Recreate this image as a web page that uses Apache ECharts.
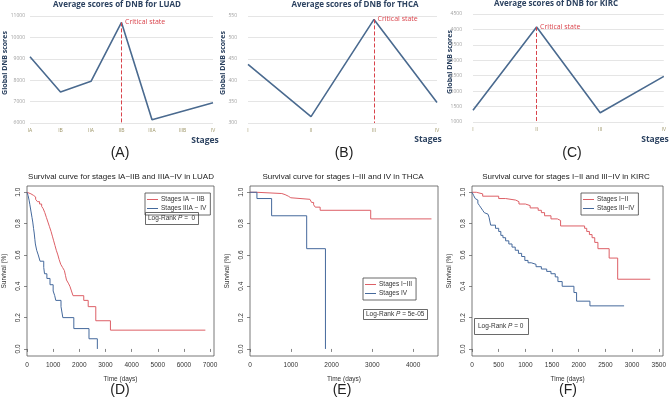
<!DOCTYPE html>
<html>
<head>
<meta charset="utf-8">
<script src="https://cdn.jsdelivr.net/npm/echarts@6/dist/echarts.min.js"></script>
<style>
  html, body { margin: 0; padding: 0; background: #fff; }
  #main { width: 669px; height: 399px; }
</style>
</head>
<body>
<div id="main"></div>
<script>
// ---- top row: average DNB scores per stage ----
var stagesLUAD = ['IA', 'IB', 'IIA', 'IIB', 'IIIA', 'IIIB', 'IV'];
var scoresLUAD = [9100, 7450, 7950, 10700, 6150, 6550, 6950];
var criticalLUAD = 'IIB';

var stagesTHCA = ['I', 'II', 'III', 'IV'];
var scoresTHCA = [437, 315, 542, 348];
var criticalTHCA = 'III';

var stagesKIRC = ['I', 'II', 'III', 'IV'];
var scoresKIRC = [1380, 4080, 1300, 2480];
var criticalKIRC = 'II';

// ---- bottom row: Kaplan-Meier curves, [days, survival] ----
var luadEarly = [[0,1],[60,0.99],[150,0.98],[250,0.97],[330,0.955],[400,0.94],[480,0.925],[560,0.91],[620,0.895],[680,0.87],
  [740,0.84],[800,0.81],[860,0.78],[920,0.75],[970,0.72],[1020,0.69],[1070,0.66],[1120,0.63],[1180,0.60],[1230,0.57],
  [1290,0.54],[1360,0.52],[1430,0.50],[1470,0.47],[1510,0.44],[1580,0.42],[1640,0.40],[1700,0.37],[1760,0.34],
  [2170,0.31],[2340,0.27],[2630,0.18],[3190,0.12],[6820,0.12]];
var luadLate = [[0,1],[40,0.98],[80,0.95],[110,0.92],[150,0.88],[190,0.84],[220,0.81],[250,0.77],[275,0.74],[300,0.70],
  [320,0.67],[370,0.63],[430,0.60],[500,0.56],[640,0.52],[670,0.48],[760,0.45],[880,0.41],[1000,0.37],[1060,0.34],
  [1100,0.31],[1300,0.27],[1370,0.20],[1790,0.13],[2370,0.065],[2690,0]];

var thcaEarly = [[0,1],[160,0.992],[780,0.985],[860,0.975],[940,0.965],[1000,0.955],[1470,0.945],[1510,0.935],
  [1560,0.92],[1600,0.905],[1720,0.885],[2960,0.83],[4450,0.83]];
var thcaLate = [[0,1],[170,0.96],[530,0.85],[1390,0.64],[1850,0]];

var kircEarly = [[0,1],[80,0.99],[200,0.975],[500,0.96],[630,0.95],[820,0.94],[880,0.925],[1000,0.915],[1090,0.9],
  [1240,0.885],[1300,0.87],[1360,0.85],[1480,0.83],[1600,0.82],[1660,0.785],[2110,0.77],[2150,0.75],[2200,0.73],
  [2250,0.71],[2300,0.68],[2360,0.64],[2570,0.58],[2730,0.445],[3340,0.445]];
var kircLate = [[0,1],[30,0.98],[60,0.96],[80,0.95],[110,0.93],[140,0.915],[170,0.9],[200,0.885],[230,0.87],[260,0.86],
  [300,0.85],[320,0.84],[350,0.79],[440,0.77],[500,0.75],[540,0.725],[580,0.71],[630,0.69],[690,0.67],[750,0.65],
  [810,0.63],[870,0.61],[930,0.59],[990,0.565],[1050,0.55],[1110,0.54],[1200,0.525],[1300,0.51],[1400,0.495],
  [1480,0.48],[1560,0.46],[1610,0.43],[1690,0.40],[1910,0.36],[1960,0.305],[2210,0.275],[2850,0.275]];

var survTicks = [0, 0.2, 0.4, 0.6, 0.8, 1.0];
var luadDays = [0, 1000, 2000, 3000, 4000, 5000, 6000, 7000];
var thcaDays = [0, 1000, 2000, 3000, 4000];
var kircDays = [0, 500, 1000, 1500, 2000, 2500, 3000, 3500];

var XL = '"Open Sans", sans-serif';
var RF = '"Liberation Sans", Arial, sans-serif';
var NAVY = '#2c4260';
var LINE = '#4a6a8f';
var RED = '#dd5f66';
var BLUE = '#45699c';
var CRIT = '#d9434b';

var chart = echarts.init(document.getElementById('main'));

function plain(v) { return String(v); }

function topX(idx, cats) {
  return {
    type: 'category', gridIndex: idx, data: cats, boundaryGap: false,
    axisLine: { show: false }, axisTick: { show: false },
    axisLabel: { fontSize: 5, color: '#9c9466', margin: 5, fontFamily: XL }
  };
}
function topY(idx, min, max, step, margin) {
  return {
    type: 'value', gridIndex: idx, min: min, max: max, interval: step,
    axisLine: { show: false }, axisTick: { show: false },
    axisLabel: { fontSize: 5, color: '#a0a0a0', margin: margin, fontFamily: XL, formatter: plain },
    splitLine: { lineStyle: { color: '#dedede', width: 0.8 } }
  };
}
function botX(idx, max, ticks) {
  return {
    type: 'value', gridIndex: idx, min: 0, max: max,
    name: 'Time (days)', nameLocation: 'middle', nameGap: 20,
    nameTextStyle: { fontSize: 6.5, color: '#333', fontFamily: RF },
    axisLine: { show: false },
    axisTick: { show: true, inside: false, length: 3, customValues: ticks, lineStyle: { color: '#555', width: 0.7 } },
    axisLabel: { fontSize: 6.5, color: '#333', margin: 6, customValues: ticks, fontFamily: RF, formatter: plain },
    splitLine: { show: false }
  };
}
function botY(idx) {
  return {
    type: 'value', gridIndex: idx, min: -0.045, max: 1.04,
    name: 'Survival (%)', nameLocation: 'middle', nameGap: 19,
    nameTextStyle: { fontSize: 6.5, color: '#333', fontFamily: RF },
    axisLine: { show: false },
    axisTick: { show: true, length: 3, customValues: survTicks, lineStyle: { color: '#555', width: 0.7 } },
    axisLabel: { fontSize: 6.5, color: '#333', margin: 5, rotate: 90, customValues: survTicks, fontFamily: RF,
      formatter: function (v) { return v.toFixed(1); } },
    splitLine: { show: false }
  };
}
function scoreSeries(idx, name, cats, vals, crit, floor) {
  var peak = vals[cats.indexOf(crit)];
  return {
    type: 'line', name: name, xAxisIndex: idx, yAxisIndex: idx, data: vals,
    symbol: 'none', lineStyle: { color: LINE, width: 1.6 },
    markLine: {
      silent: true, symbol: 'none', label: { show: false },
      lineStyle: { color: CRIT, type: 'dashed', width: 1 },
      data: [[{ coord: [crit, peak] }, { coord: [crit, floor] }]]
    },
    markPoint: {
      silent: true, symbol: 'circle', symbolSize: 1, itemStyle: { color: 'rgba(0,0,0,0)' },
      label: { show: true, position: 'right', distance: 3, formatter: 'Critical state',
        color: CRIT, fontSize: 7, fontFamily: XL },
      data: [{ coord: [crit, peak] }]
    }
  };
}
function kmSeries(idx, name, data, color) {
  return {
    type: 'line', name: name, xAxisIndex: idx, yAxisIndex: idx, data: data,
    step: 'end', symbol: 'none', lineStyle: { color: color, width: 1 }, itemStyle: { color: color }
  };
}
function legendBox(names, left, top) {
  return {
    data: names, orient: 'vertical', left: left, top: top, icon: 'rect',
    borderColor: '#444', borderWidth: 0.8, borderRadius: 0, padding: [3, 4, 3, 2],
    itemGap: 2, itemWidth: 11, itemHeight: 1,
    textStyle: { fontSize: 6.5, color: '#333', fontFamily: RF, padding: [0, 0, 0, -2] }
  };
}
function logRank(text, left, top, pad) {
  return {
    text: text, left: left, top: top, padding: pad,
    borderColor: '#444', borderWidth: 0.8,
    textStyle: { fontSize: 6.5, fontWeight: 'normal', color: '#333', fontFamily: RF,
      rich: { i: { fontSize: 6.5, fontStyle: 'italic', color: '#333', fontFamily: RF } } }
  };
}
function label(text, x, y, size, weight, color, font) {
  return {
    text: text, left: x, top: y, textAlign: 'center', padding: 0,
    textStyle: { fontSize: size, fontWeight: weight, color: color, fontFamily: font }
  };
}
function vText(text, x, y) {
  return { type: 'text', x: x, y: y, rotation: Math.PI / 2,
    style: { text: text, font: 'bold 7px "Open Sans"', fill: NAVY, align: 'center', verticalAlign: 'middle' } };
}

var option = {
  animation: false,
  title: [
    label('Average scores of DNB for LUAD', 117, 1, 8, 'bold', NAVY, XL),
    label('Average scores of DNB for THCA', 355, 1, 8, 'bold', NAVY, XL),
    label('Average scores of DNB for KIRC', 556, 0, 8, 'bold', NAVY, XL),
    label('Stages', 205, 136, 8.5, 'bold', NAVY, XL),
    label('Stages', 428, 135, 8.5, 'bold', NAVY, XL),
    label('Stages', 655, 135, 8.5, 'bold', NAVY, XL),
    label('(A)', 120, 146, 14, 'normal', '#222', RF),
    label('(B)', 344, 146, 14, 'normal', '#222', RF),
    label('(C)', 572, 146, 14, 'normal', '#222', RF),
    label('Survival curve for stages IA~IIB and IIIA~IV in LUAD', 121, 173, 8, 'normal', '#222', RF),
    label('Survival curve for stages I~III and IV in THCA', 343, 173, 8, 'normal', '#222', RF),
    label('Survival curve for stages I~II and III~IV in KIRC', 566, 173, 8, 'normal', '#222', RF),
    label('(D)', 120, 383, 14, 'normal', '#222', RF),
    label('(E)', 342, 383, 14, 'normal', '#222', RF),
    label('(F)', 568, 383, 14, 'normal', '#222', RF),
    logRank('Log-Rank {i|P} =  0', 145, 212, [3, 4, 3, 3]),
    logRank('Log-Rank {i|P} = 5e-05', 363, 309, [2, 3, 2, 3]),
    logRank('Log-Rank {i|P} = 0', 474, 318, [5, 5, 5, 4])
  ],
  legend: [
    legendBox(['Stages IA ~ IIB', 'Stages IIIA ~ IV'], 145, 193),
    legendBox(['Stages I~III', 'Stages IV'], 363, 278),
    legendBox(['Stages I~II', 'Stages III~IV'], 581, 193)
  ],
  graphic: [
    vText('Global DNB scores', 5, 63),
    vText('Global DNB scores', 223, 63),
    vText('Global DNB scores', 450, 62)
  ],
  grid: [
    { left: 30, top: 16, width: 183, height: 107 },
    { left: 248, top: 16, width: 189, height: 107 },
    { left: 473, top: 14, width: 195, height: 108 },
    { left: 25, top: 186, width: 189, height: 170, show: true, borderColor: '#555', borderWidth: 0.8 },
    { left: 250, top: 186, width: 188, height: 170, show: true, borderColor: '#555', borderWidth: 0.8 },
    { left: 472, top: 186, width: 196, height: 170, show: true, borderColor: '#555', borderWidth: 0.8 }
  ],
  xAxis: [
    topX(0, stagesLUAD), topX(1, stagesTHCA), topX(2, stagesKIRC),
    botX(3, 7150, luadDays), botX(4, 4610, thcaDays), botX(5, 3580, kircDays)
  ],
  yAxis: [
    topY(0, 6000, 11000, 1000, 5), topY(1, 300, 550, 50, 11), topY(2, 1000, 4500, 500, 11),
    botY(3), botY(4), botY(5)
  ],
  series: [
    scoreSeries(0, 'LUAD', stagesLUAD, scoresLUAD, criticalLUAD, 6000),
    scoreSeries(1, 'THCA', stagesTHCA, scoresTHCA, criticalTHCA, 300),
    scoreSeries(2, 'KIRC', stagesKIRC, scoresKIRC, criticalKIRC, 1000),
    kmSeries(3, 'Stages IA ~ IIB', luadEarly, RED),
    kmSeries(3, 'Stages IIIA ~ IV', luadLate, BLUE),
    kmSeries(4, 'Stages I~III', thcaEarly, RED),
    kmSeries(4, 'Stages IV', thcaLate, BLUE),
    kmSeries(5, 'Stages I~II', kircEarly, RED),
    kmSeries(5, 'Stages III~IV', kircLate, BLUE)
  ]
};

chart.setOption(option);
</script>
</body>
</html>
